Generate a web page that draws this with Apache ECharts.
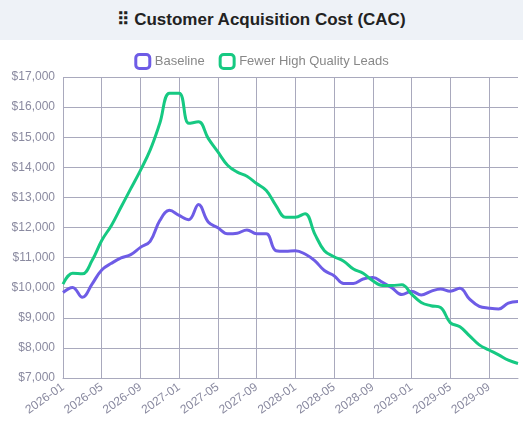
<!DOCTYPE html>
<html><head><meta charset="utf-8">
<script src="https://cdn.jsdelivr.net/npm/echarts@6/dist/echarts.min.js"></script>
<style>html,body{margin:0;padding:0;background:#fff}#t{height:40px;background:#eef2f7;font:bold 17px "Liberation Sans",Arial,sans-serif;color:#222;text-align:center;line-height:40px}#c{width:523px;height:394px}</style>
</head><body>
<div id="t">⠿ Customer Acquisition Cost (CAC)</div>
<div id="c"></div>
<script>
const categories = [];
for (let y = 2026; y <= 2029; y++) for (let m = 1; m <= 12; m++) categories.push(y + '-' + String(m).padStart(2, '0'));
const baseline = [9840,10010,9680,10120,10590,10810,10990,11100,11340,11540,12230,12570,12400,12260,12760,12180,11990,11790,11810,11920,11790,11790,11230,11210,11230,11120,10900,10570,10400,10140,10140,10290,10340,10180,9990,9770,9880,9760,9880,9960,9880,9980,9620,9380,9320,9290,9490,9540];
const fewer = [10120,10480,10460,10900,11570,12070,12680,13290,13900,14570,15460,16460,16460,15460,15510,14960,14510,14070,13840,13700,13460,13230,12730,12340,12340,12460,11790,11230,11030,10880,10620,10480,10230,10070,10070,10100,9790,9510,9400,9340,8840,8700,8400,8100,7930,7770,7590,7480];
const chart = echarts.init(document.getElementById('c'));
const gridLine = {show:true, lineStyle:{color:'#a9a9bd', width:1}};
const ff = 'Liberation Sans';
chart.setOption({
  animation:false,
  color:['#6e5ce6','#16c982'],
  legend:{top:8, itemWidth:14, itemHeight:14, itemGap:14, icon:'roundRect',
    textStyle:{color:'#888', fontSize:13, fontFamily:ff},
    data:[{name:'Baseline', itemStyle:{color:'#fff', borderColor:'#6e5ce6', borderWidth:3}},
          {name:'Fewer High Quality Leads', itemStyle:{color:'#fff', borderColor:'#16c982', borderWidth:3}}]},
  grid:{left:63, right:5, top:37, bottom:56, containLabel:false},
  xAxis:{type:'category', data:categories, boundaryGap:false,
    axisLine:{lineStyle:{color:'#a9a9bd'}}, axisTick:{show:false},
    axisLabel:{interval:3, rotate:35, color:'#8a8aa0', fontSize:12, fontFamily:ff},
    splitLine:{show:true, interval:3, lineStyle:{color:'#a9a9bd'}}},
  yAxis:{type:'value', min:7000, max:17000, interval:1000,
    axisLabel:{color:'#8a8aa0', fontSize:12, fontFamily:ff, formatter:v=>'$'+v.toLocaleString('en-US')},
    splitLine:gridLine},
  series:[
    {name:'Baseline', type:'line', data:baseline, smooth:0.4, showSymbol:false, lineStyle:{width:3}},
    {name:'Fewer High Quality Leads', type:'line', data:fewer, smooth:0.4, showSymbol:false, lineStyle:{width:3}}
  ]
});
</script></body></html>
